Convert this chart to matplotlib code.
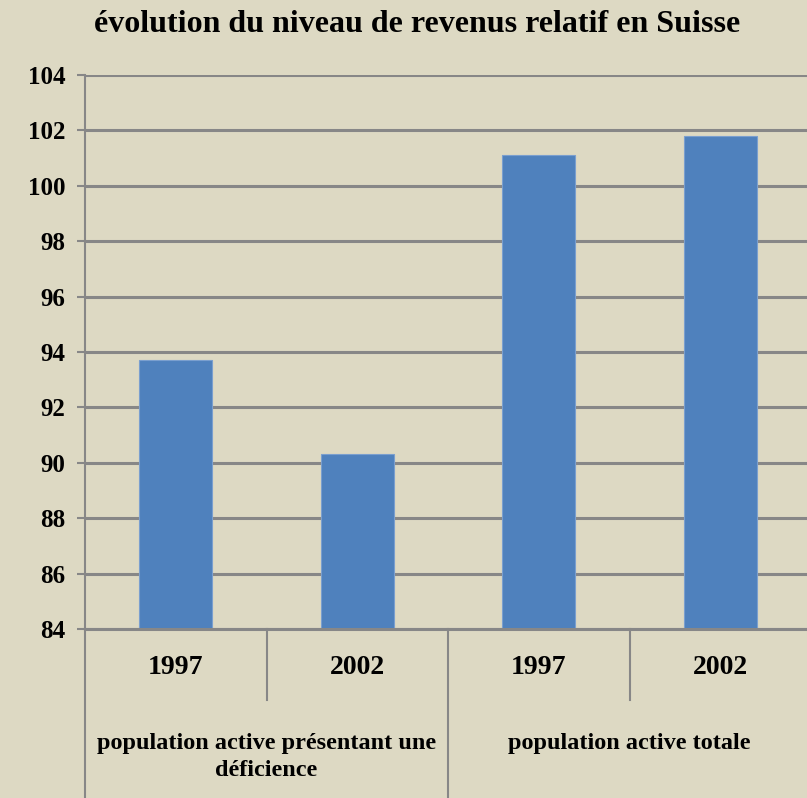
import numpy as np
import matplotlib
matplotlib.use('Agg')
import matplotlib.pyplot as plt
import matplotlib.transforms as mtransforms

# data
years = ['1997', '2002', '1997', '2002']
groups = ['population active présentant une\ndéficience', 'population active totale']
values = [93.7, 90.3, 101.1, 101.8]
yticks = np.arange(84, 105, 2)

bg = '#ddd9c3'
grid_col = '#878787'
bar_col = '#4f81bd'

plt.rcParams['font.family'] = ['Liberation Serif', 'DejaVu Serif']
plt.rcParams['font.weight'] = 'bold'

fig = plt.figure(figsize=(8.07, 7.98), dpi=100)
fig.patch.set_facecolor(bg)
ax = fig.add_axes([85/807, 1-629/798, (811-85)/807, (629-75)/798])
ax.set_facecolor(bg)

x = np.arange(len(values))
ax.bar(x, np.array(values) - 84, bottom=84, width=0.4, color=bar_col,
       edgecolor='#7a9fcf', linewidth=0.8, zorder=3)

ax.set_xlim(-0.5, len(values) - 0.5)
ax.set_ylim(84, 104)
ax.set_yticks(yticks)
ax.set_yticklabels([str(v) for v in yticks], fontsize=18, fontweight='bold')
ax.yaxis.grid(True, color=grid_col, linewidth=2.2, zorder=0)
ax.tick_params(axis='y', length=6, width=1.5, color=grid_col, pad=8)
ax.set_xticks([])
for s in ['top', 'right', 'bottom']:
    ax.spines[s].set_visible(False)
ax.spines['left'].set_color(grid_col)
ax.spines['left'].set_linewidth(1.5)
ax.axhline(84, color=grid_col, linewidth=2.2, zorder=4, clip_on=False)

fig.text(417/807, 1-24/798, 'évolution du niveau de revenus relatif en Suisse',
         fontsize=23, fontweight='bold', ha='center', va='center')

# category axis below the plot
trans = mtransforms.blended_transform_factory(ax.transData, ax.transAxes)
for i, yr in enumerate(years):
    ax.text(i, -0.07, yr, transform=trans, ha='center', va='center',
            fontsize=20, fontweight='bold')
for i, g in enumerate(groups):
    ax.text(2 * i + 0.5, -0.188, g, transform=trans, ha='center', va='top',
            fontsize=17.5, fontweight='bold', linespacing=1.35)

for xs in [0.5, 2.5]:
    ax.plot([xs, xs], [0, -0.128], transform=trans, color=grid_col,
            linewidth=1.5, clip_on=False)
for xs in [-0.5, 1.5]:
    ax.plot([xs, xs], [0, -0.4], transform=trans, color=grid_col,
            linewidth=1.5, clip_on=False)

fig.savefig('out.png', dpi=100, facecolor=bg)
